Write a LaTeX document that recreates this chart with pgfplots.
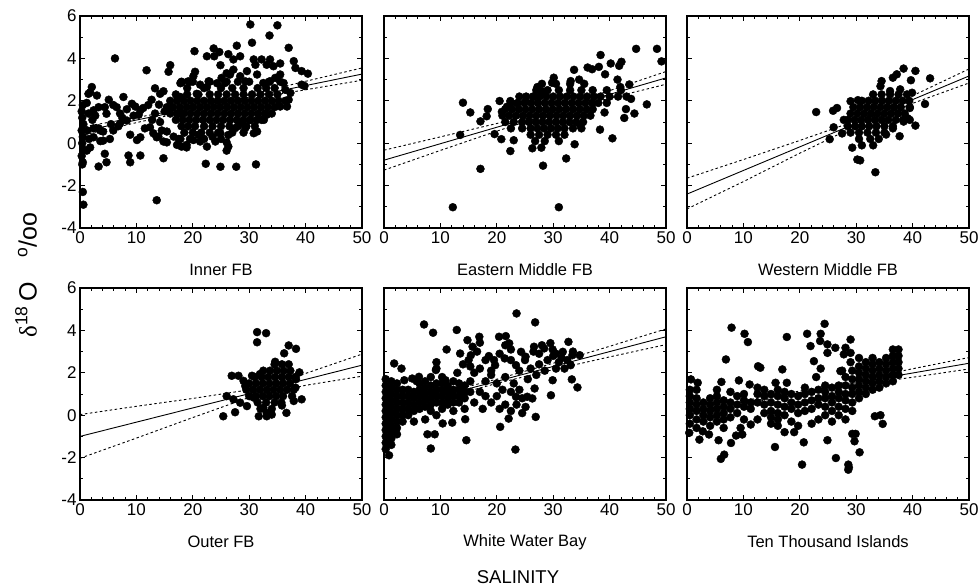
\documentclass[border=0pt]{standalone}
\usepackage{fontspec}
\setmainfont{Liberation Sans}
\newfontfamily\serif{Liberation Serif}
\usepackage{pgfplots}
\pgfplotsset{compat=1.18}

\pgfplotsset{
  panel/.style={
    anchor=north west,
    scale only axis, width=282pt, height=212pt,
    xmin=0, xmax=50, ymin=-4, ymax=6,
    xtick={0,10,...,50}, ytick={-4,-2,...,6},
    minor x tick num=4, minor y tick num=1,
    tick align=inside, major tick length=5pt, minor tick length=3pt,
    axis line style={line width=1.2pt},
    every tick/.style={black, line width=0.7pt},
    tick label style={font=\fontsize{17}{19}\selectfont},
    /pgf/number format/assume math mode=true,
    xlabel style={font=\fontsize{16.5}{18}\selectfont,
      at={(axis description cs:0.5,0)}, anchor=center, yshift=-42pt},
  },
  noy/.style={yticklabels={}},
  dots/.style={only marks, mark=*, mark size=4pt, black},
  fit/.style={black, line width=0.9pt, mark=none},
  band/.style={black, line width=0.9pt, mark=none, dash pattern=on 2.5pt off 2.5pt},
}

\begin{document}
\begin{tikzpicture}
\path[use as bounding box] (0,0) rectangle (980pt,-586pt);

% ---------- Inner FB ----------
\begin{axis}[panel, at={(80pt,-16pt)}, xlabel={Inner FB}]
\addplot[dots] coordinates {
(0.3,1.5)(0.5,1.8)(0.4,1.2)(0.6,0.9)(0.3,0.6)(0.5,0.3)(0.4,0.0)(0.6,-0.3)(0.3,-0.6)(0.5,-0.9)(0.4,-1.0)(0.5,-2.3)(0.6,-2.9)
(1.2,1.9)(1.5,1.4)(1.3,0.6)(1.6,0.2)(1.8,-0.2)(1.2,-0.35)(1.8,2.4)(1.5,2.33)(2.1,2.65)(2.4,1.55)(2.4,0.7)(2.4,0.28)(2.2,1.1)
(2.7,1.3)(3.0,2.25)(3.3,1.7)(3.3,0.7)(3.6,0.6)(3.6,0.1)(3.3,-1.1)(4.1,0.55)(4.1,0.12)(4.4,1.7)(4.7,1.39)(4.4,-0.5)(4.7,-0.9)
(5.1,2.05)(5.3,0.2)(5.5,0.9)(5.9,0.6)(5.9,1.8)(6.2,4.0)(6.5,1.7)(6.8,0.8)(7.1,1.4)(7.1,0.93)(7.7,2.18)(7.5,1.2)(8.3,1.07)
(8.3,1.6)(8.6,-0.58)(8.9,0.4)(8.9,-0.9)(9.2,1.86)(9.5,1.3)(9.8,1.73)(10.1,0.15)(10.4,1.34)(10.7,0.28)(10.7,1.55)(10.7,-0.58)
(11.2,1.66)(11.8,3.44)(11.5,0.7)(12.1,1.8)(12.4,0.75)(12.7,2.05)(12.8,1.1)(13.0,0.47)(13.3,2.59)(13.3,1.4)(13.6,0.28)
(13.6,-2.69)(14.0,1.82)(14.2,2.33)(14.2,1.0)(14.5,0.6)(14.8,2.45)(14.8,0.08)(14.8,-0.71)(15.0,1.5)(15.4,0.55)(15.4,1.7)
(15.4,0.04)(15.7,3.37)(16.0,3.68)
(17.8,2.83)(19.5,2.9)(20.4,3.37)(20.3,4.34)(20.1,3.16)(19.2,2.92)(18.0,2.87)(17.8,2.18)(20.7,2.33)(22.5,2.65)(24.3,2.83)
(24.9,3.68)(26.0,3.3)(22.5,4.1)(23.7,4.47)(23.8,4.1)(24.7,4.3)(26.3,4.2)(27.2,3.95)(27.8,4.6)(28.4,4.1)(30.2,5.6)(30.5,4.74)
(33.6,5.08)(35.0,5.56)(30.8,3.95)(31.1,3.7)(32.2,3.95)(33.1,3.7)(33.7,3.95)(34.3,3.63)(35.5,3.76)(37.0,4.5)(37.9,3.87)
(38.2,3.55)(39.3,3.4)(40.4,3.28)(39.3,2.76)(39.8,2.7)(21.3,2.76)(22.8,2.92)(25.1,3.08)(25.7,2.84)(26.6,3.24)(27.2,3.47)
(28.4,3.16)(29.6,3.4)(29.3,2.92)(31.4,3.24)(32.5,2.84)(33.7,2.92)(34.6,3.08)(35.5,3.24)(36.1,2.84)(36.4,2.52)(37.3,2.37)
(37.0,2.05)(36.7,1.73)(35.5,1.73)
(13.9,0.31)(16.6,0.31)(17.2,-0.08)(18.0,-0.16)(18.9,-0.08)(17.8,0.2)(18.9,-0.2)(20.1,0.15)(21.3,0.08)(22.5,-0.16)(24.0,0.08)
(24.9,0.47)(26.3,-0.16)(26.3,0.39)(26.0,0.04)(26.0,-0.35)(27.5,0.71)(28.4,0.94)(30.8,0.47)(31.4,0.55)(29.3,0.71)(30.2,1.1)
(32.2,1.1)(33.1,1.34)(22.3,-0.97)(24.9,-1.11)(27.7,-1.11)(31.2,-1.0)(17.8,1.39)(21,0.4)(23.5,0.3)
(17,2.3)(19,2.3)(21,2.3)(23,2.3)(24.5,2.3)(26,2.3)(27.5,2.3)(29,2.3)(30.5,2.3)(32,2.3)(33.5,2.3)(35,2.3)
(16,2.0)(17.2,2.0)(18.4,2.0)(19.6,2.0)(20.8,2.0)(22,2.0)(23.2,2.0)(24.4,2.0)(25.6,2.0)(26.8,2.0)(28,2.0)(29.2,2.0)(30.4,2.0)
(31.6,2.0)(32.8,2.0)(34,2.0)(35.2,2.0)(36.4,2.0)
(16.5,1.7)(17.7,1.7)(18.9,1.7)(20.1,1.7)(21.3,1.7)(22.5,1.7)(23.7,1.7)(24.9,1.7)(26.1,1.7)(27.3,1.7)(28.5,1.7)(29.7,1.7)
(30.9,1.7)(32.1,1.7)(33.3,1.7)(34.5,1.7)
(16,1.4)(17.2,1.4)(18.4,1.4)(19.6,1.4)(20.8,1.4)(22,1.4)(23.2,1.4)(24.4,1.4)(25.6,1.4)(26.8,1.4)(28,1.4)(29.2,1.4)(30.4,1.4)
(31.6,1.4)(32.8,1.4)(34,1.4)
(17,1.1)(18.2,1.1)(19.4,1.1)(20.6,1.1)(21.8,1.1)(23,1.1)(24.2,1.1)(25.4,1.1)(26.6,1.1)(27.8,1.1)(29,1.1)(30.2,1.1)(31.4,1.1)(32.6,1.1)
(18,0.8)(19.2,0.8)(20.4,0.8)(22,0.8)(23.5,0.8)(25,0.8)(26.5,0.8)(28,0.8)(29.5,0.8)(31,0.8)
(18.5,0.5)(20,0.5)(21.5,0.5)(23,0.5)(24.5,0.5)(27,0.5)(29,0.5)
(17.5,0.2)(19.5,0.2)(22,0.2)(25,0.2)
(19,2.6)(22,2.6)(25,2.6)(27,2.6)(29,2.6)(31.5,2.6)(33,2.6)(34.5,2.6)
(18,2.9)(20,2.9)(23,2.9)(26,2.9)(28,2.9)(30,2.9)(33.5,2.9)(35.5,2.9)
};
\addplot[fit] coordinates {(0,0.55)(50,3.26)};
\addplot[band] coordinates {(0,0.75)(10,1.21)(20,1.70)(30,2.28)(40,2.92)(50,3.55)};
\addplot[band] coordinates {(0,0.35)(10,0.97)(20,1.56)(30,2.08)(40,2.52)(50,2.97)};
\end{axis}

% ---------- Eastern Middle FB ----------
\begin{axis}[panel, noy, at={(384pt,-16pt)}, xlabel={Eastern Middle FB}]
\addplot[dots] coordinates {
(14.0,1.91)(15.3,1.45)(13.5,0.39)(12.2,-3.02)(17.1,-1.21)(17.1,1.03)(18.4,1.61)(18.2,1.27)(19.6,0.43)(20.8,0.19)(22.4,-0.37)
(23.0,0.14)(20.5,1.99)(22.4,1.99)(26.3,-0.24)(27.9,-0.21)(28.2,-1.06)(31.0,-3.02)(32.3,-0.72)(33.8,-0.05)(34.8,0.84)(38.3,0.64)
(40.5,0.23)(39.1,1.45)(42.6,1.19)(42.9,1.61)(44.4,1.40)(43.8,2.09)(46.6,1.83)(44.7,4.45)(48.4,4.45)(49.2,3.86)(38.4,4.16)
(40.2,3.76)(41.7,3.65)(42.1,3.84)(41.4,3.0)(41.9,2.65)(43.5,2.77)(39.2,3.25)(38.1,3.6)(36.9,3.49)(36.1,3.57)(33.7,3.46)
(34.6,3.0)(33.1,2.93)(30.1,3.09)(29.8,2.85)(27.2,2.65)(28.1,2.44)(26.6,2.2)(25.1,1.96)(23.6,1.88)(21.8,1.72)(20.9,1.48)
(27,2.5)(29,2.5)(31,2.5)(33,2.5)(35,2.5)(37,2.5)(39.5,2.5)(42,2.5)
(24,2.2)(25.2,2.2)(26.4,2.2)(27.6,2.2)(28.8,2.2)(30,2.2)(31.2,2.2)(32.4,2.2)(33.6,2.2)(34.8,2.2)(36,2.2)(37.2,2.2)(38.4,2.2)
(40,2.2)(41.5,2.2)(43,2.2)
(22.5,1.9)(23.7,1.9)(24.9,1.9)(26.1,1.9)(27.3,1.9)(28.5,1.9)(29.7,1.9)(30.9,1.9)(32.1,1.9)(33.3,1.9)(34.5,1.9)(35.7,1.9)
(36.9,1.9)(38,1.9)(39.5,1.9)
(21.5,1.6)(22.7,1.6)(23.9,1.6)(25.1,1.6)(26.3,1.6)(27.5,1.6)(28.7,1.6)(29.9,1.6)(31.1,1.6)(32.3,1.6)(33.5,1.6)(34.7,1.6)
(35.9,1.6)(37,1.6)
(21,1.3)(22.2,1.3)(23.4,1.3)(24.6,1.3)(25.8,1.3)(27,1.3)(28.2,1.3)(29.4,1.3)(30.6,1.3)(31.8,1.3)(33,1.3)(34.2,1.3)(35.4,1.3)(36.6,1.3)
(21.5,1.0)(23,1.0)(24.5,1.0)(25.7,1.0)(26.9,1.0)(28.1,1.0)(29.3,1.0)(30.5,1.0)(31.7,1.0)(32.9,1.0)(34.1,1.0)(35.3,1.0)
(22.5,0.7)(24.5,0.7)(26,0.7)(27.2,0.7)(28.4,0.7)(29.6,0.7)(30.8,0.7)(32,0.7)(33.5,0.7)(35,0.7)
(26,0.4)(27.5,0.4)(29,0.4)(30.5,0.4)(32,0.4)
(26.8,0.1)(28.5,0.1)(31,0.1)
(28,2.8)(30.5,2.8)(33,2.8)(35.5,2.8)
};
\addplot[fit] coordinates {(0,-0.8)(50,3.08)};
\addplot[band] coordinates {(0,-0.33)(10,0.30)(20,0.93)(30,1.63)(40,2.48)(50,3.38)};
\addplot[band] coordinates {(0,-1.27)(10,-0.34)(20,0.57)(30,1.43)(40,2.12)(50,2.78)};
\end{axis}

% ---------- Western Middle FB ----------
\begin{axis}[panel, noy, at={(687pt,-16pt)}, xlabel={Western Middle FB}]
\addplot[dots] coordinates {
(22.9,1.47)(25.9,1.53)(26.0,0.75)(25.3,0.19)(26.6,1.66)(29.3,-0.21)(30.2,-0.77)(30.7,-0.81)(33.4,-1.37)(29.0,1.98)(30.3,2.03)
(38.4,3.52)(40.5,3.41)(43.1,3.06)(42.2,1.85)(40.5,0.83)(37.7,0.33)(36.5,0.7)(35.3,0.41)(37.2,3.25)(36.5,3.09)(34.5,2.93)
(34.3,2.69)(39.7,2.97)(39.9,2.38)(39.5,1.66)(39.1,1.18)(38.4,1.02)(37.8,2.54)(36.0,2.46)(27.5,0.46)(27.8,1.1)
(33,2.3)(34.5,2.3)(36,2.3)(37.5,2.3)(39,2.3)
(31,2.0)(32.2,2.0)(33.4,2.0)(34.6,2.0)(35.8,2.0)(37,2.0)(38.2,2.0)(39.4,2.0)
(29.5,1.7)(30.7,1.7)(31.9,1.7)(33.1,1.7)(34.3,1.7)(35.5,1.7)(36.7,1.7)(37.9,1.7)(39.5,1.7)
(29,1.4)(30.2,1.4)(31.4,1.4)(32.6,1.4)(33.8,1.4)(35,1.4)(36.2,1.4)(37.4,1.4)(38.6,1.4)
(28.5,1.1)(29.7,1.1)(30.9,1.1)(32.1,1.1)(33.3,1.1)(34.5,1.1)(35.7,1.1)(37,1.1)(38.3,1.1)(39.5,1.1)
(28.5,0.8)(29.8,0.8)(31,0.8)(32.3,0.8)(33.6,0.8)(35,0.8)(36.5,0.8)
(29,0.5)(30.5,0.5)(32,0.5)(33.5,0.5)(35,0.5)
(30.5,0.2)(32.5,0.2)(34,0.2)
(31,-0.1)(33,-0.1)
};
\addplot[fit] coordinates {(0,-2.4)(50,3.17)};
\addplot[band] coordinates {(0,-1.65)(10,-0.77)(20,0.13)(30,1.06)(40,2.24)(50,3.50)};
\addplot[band] coordinates {(0,-3.1)(10,-1.81)(20,-0.47)(30,0.82)(40,1.88)(50,2.84)};
\end{axis}

% ---------- Outer FB ----------
\begin{axis}[panel, at={(80pt,-288pt)}, xlabel={Outer FB}]
\addplot[dots] coordinates {
(31.4,3.92)(31.4,3.44)(33.0,3.87)(37.0,3.29)(38.3,3.13)(36.2,2.92)(34.6,2.52)(25.4,-0.05)(26.0,0.9)(27.5,0.14)(26.9,1.86)
(28.1,1.86)(29.0,1.62)(29.3,1.38)(30.5,1.86)(31.9,1.94)(31.7,-0.05)(33.1,-0.05)(34.0,0.03)(36.6,0.11)(35.8,0.46)(37.6,0.9)
(39.3,0.75)(37.9,0.67)(27.2,0.75)(28.4,0.59)(29.6,0.43)(30.8,0.83)(32.5,0.35)(33.1,0.11)(38.9,2.02)(38.3,1.70)(38.2,1.3)
(34.5,2.4)(35.8,2.4)(37,2.4)
(32.5,2.1)(33.7,2.1)(34.9,2.1)(36.1,2.1)(37.3,2.1)
(31,1.8)(32.2,1.8)(33.4,1.8)(34.6,1.8)(35.8,1.8)(37,1.8)(38.2,1.8)
(30,1.5)(31.2,1.5)(32.4,1.5)(33.6,1.5)(34.8,1.5)(36,1.5)(37.2,1.5)
(29.5,1.2)(30.7,1.2)(31.9,1.2)(33.1,1.2)(34.3,1.2)(35.5,1.2)(36.7,1.2)(37.9,1.2)
(30,0.9)(31.2,0.9)(32.4,0.9)(33.6,0.9)(34.8,0.9)(36,0.9)
(31.5,0.6)(33,0.6)(34.5,0.6)(35.7,0.6)
(32,0.3)(34,0.3)
};
\addplot[fit] coordinates {(0,-1.0)(50,2.36)};
\addplot[band] coordinates {(0,0.03)(10,0.42)(20,0.79)(30,1.20)(40,1.97)(50,2.88)};
\addplot[band] coordinates {(0,-2.03)(10,-1.08)(20,-0.11)(30,0.84)(40,1.41)(50,1.84)};
\end{axis}

% ---------- White Water Bay ----------
\begin{axis}[panel, noy, at={(384pt,-288pt)}, xlabel={White Water Bay}]
\addplot[dots] coordinates {
(23.5,4.8)(7.1,4.28)(8.7,3.89)(12.9,4.02)(26.8,4.38)(11.1,3.1)(13.5,2.91)(14.8,3.54)(16.9,3.7)(15.7,3.23)(17.0,3.42)(15.4,2.83)
(18.6,2.79)(20.4,3.7)(21.6,3.73)(22.2,3.39)(22.5,3.1)(21.4,2.68)(19.7,2.36)(23.4,2.36)(24.3,2.99)(25.1,2.76)(26.6,3.23)
(28.4,3.15)(29.9,3.1)(31.7,2.99)(32.7,3.46)(33.4,2.83)(34.7,2.83)(33.1,2.36)(32.0,2.2)(30.5,2.2)(29.9,1.65)(29.6,0.94)
(33.3,1.69)(34.3,1.31)(26.7,1.26)(26.9,-0.08)(25.1,0.39)(26.3,0.79)(25.4,0.87)(23.4,0.87)(22.1,-0.16)(20.6,-0.55)
(23.3,-1.62)(14.6,-1.18)(8.3,-1.57)(7.7,-0.9)(9.0,-0.9)(10.4,-0.39)(12.1,-0.35)(14.4,-0.19)(0.9,-1.89)
(0.3,-1.6)(0.3,-1.3)(0.3,-1.0)(0.3,-0.7)(0.3,-0.4)(0.3,-0.1)(0.3,0.2)(0.3,0.5)(0.3,0.8)(0.3,1.1)(0.3,1.4)(0.3,1.7)
(1.3,-1.4)(1.3,-1.1)(1.3,-0.8)(1.3,-0.5)(1.3,-0.2)(1.3,0.1)(1.3,0.4)(1.3,0.7)(1.3,1.0)(1.3,1.3)(1.3,1.6)
(2.3,-0.9)(2.3,-0.6)(2.3,-0.3)(2.3,0.0)(2.3,0.3)(2.3,0.6)(2.3,0.9)(2.3,1.2)(2.3,1.5)
(3.3,-0.3)(3.3,0.0)(3.3,0.3)(3.3,0.6)(3.3,0.9)(3.3,1.2)
(4.3,0.0)(4.3,0.3)(4.3,0.6)(4.3,0.9)(4.3,1.2)(1.8,2.44)(3.1,2.2)
(5.3,-0.3)(5.3,0.2)(5.3,0.5)(5.3,0.8)(5.3,1.1)
(6.3,0.3)(6.3,0.6)(6.3,0.9)(6.3,1.2)(6.3,1.5)
(7.3,-0.2)(7.3,0.4)(7.3,0.7)(7.3,1.0)(7.3,1.3)(7.3,1.6)
(8.3,0.2)(8.3,0.5)(8.3,0.8)(8.3,1.1)(8.3,1.4)(8.3,1.8)
(9.3,0.0)(9.3,0.6)(9.3,0.9)(9.3,1.2)(9.3,1.5)(9.3,2.2)(9.3,2.5)
(10.3,0.3)(10.3,0.6)(10.3,0.9)(10.3,1.2)(10.3,1.5)(10.3,1.8)
(11.3,0.5)(11.3,0.8)(11.3,1.1)(11.3,1.4)
(12.3,0.2)(12.3,0.6)(12.3,0.9)(12.3,1.2)(12.3,1.6)
(13.3,0.6)(13.3,0.9)(13.3,1.2)(13.3,1.5)
(14.3,0.3)(14.3,0.8)(14.3,1.1)(14.3,1.4)
(6.2,1.81)(5.8,1.6)(15.3,1.1)(15.3,1.6)(15.3,2.3)
(5.0,1.73)(3.6,1.65)(9.2,2.13)(10.9,1.65)(11.4,1.18)(13.6,1.21)
(16,2.0)(17,2.2)(18,1.6)(19,1.9)(20,1.5)(21,1.2)(21.5,1.8)(22.5,1.1)(23,1.5)(24,1.2)(24.5,0.8)(25.5,1.7)(26,2.2)(27,1.9)
(27.5,2.4)(28.5,2.1)(29,2.6)(30,2.8)(31,2.5)(19,0.6)(20,0.9)(20.5,0.3)(21.5,0.5)(22.5,0.2)(23.5,0.5)(24.5,0.1)(18,0.9)
(17,1.1)(16,0.6)(17.5,0.3)(19.5,2.6)(20.5,2.9)(21.5,3.3)(22.5,2.6)(24,2.1)(25,2.6)(26.5,3.0)(27.5,2.9)(28,3.3)(29.5,3.4)
(30.5,2.9)(31.5,2.7)(32.5,2.6)(33.5,3.0)(16.5,3.0)(18,2.6)(19,2.1)(15,2.6)(14,2.4)(13,2.0)
};
\addplot[fit] coordinates {(0,0.2)(50,3.7)};
\addplot[band] coordinates {(0,0.4)(10,1.02)(20,1.7)(30,2.45)(40,3.25)(50,4.07)};
\addplot[band] coordinates {(0,0.0)(10,0.78)(20,1.5)(30,2.15)(40,2.75)(50,3.33)};
\end{axis}

% ---------- Ten Thousand Islands ----------
\begin{axis}[panel, noy, at={(687pt,-288pt)}, xlabel={Ten Thousand Islands}]
\addplot[dots] coordinates {
(7.9,4.13)(10.2,3.84)(10.8,3.45)(6.9,2.63)(21.3,3.84)(21.9,3.26)(23.7,3.84)(24.4,4.31)(23.6,3.5)(24.9,3.34)(26.3,3.18)
(24.9,2.94)(22.5,2.55)(22.9,1.8)(23.7,2.2)(17.7,3.69)(12.6,2.31)(13.0,2.24)(16.9,2.16)(28.1,3.18)(29.0,3.57)(27.8,2.87)
(29.0,2.94)(27.2,2.08)(0.7,1.69)(1.9,1.53)(6.1,1.57)(9.2,1.64)(11.1,1.45)(15.7,1.53)(17.7,1.53)(33.3,-0.05)(34.3,0.0)
(34.7,-0.41)(29.3,-0.88)(29.9,-0.88)(29.7,-1.23)(30.6,-1.75)(28.6,-2.33)(28.6,-2.57)(28.7,-2.46)(26.4,-2.02)(24.9,-1.18)
(20.7,-1.28)(20.4,-2.33)(15.6,-1.5)(17.3,-0.8)(19.0,-0.8)(6.0,-2.06)(6.6,-1.86)(2.2,-1.15)(5.6,-1.18)(7.8,-1.31)(8.7,-0.96)
(9.8,-0.91)(9.5,-0.6)(11.3,-0.44)(3.9,-0.91)(2.8,-0.76)(0.4,-0.83)
(0.5,-0.4)(0.5,0.0)(0.5,0.3)(0.5,0.6)(0.5,0.9)(0.5,1.2)
(1.7,-0.6)(1.7,-0.2)(1.7,0.2)(1.7,0.5)(1.7,0.8)(1.7,1.2)
(2.9,-0.3)(2.9,0.0)(2.9,0.3)(2.9,0.6)
(4.1,-0.5)(4.1,-0.1)(4.1,0.2)(4.1,0.5)(4.1,0.8)
(5.3,-0.3)(5.3,0.0)(5.3,0.3)(5.3,0.6)(5.3,0.9)(5.3,1.2)
(6.5,-0.6)(6.5,-0.2)(6.5,0.1)(6.5,0.4)(6.5,0.7)
(7.7,-0.1)(7.7,0.3)(7.7,0.6)(7.7,1.1)
(8.9,0.1)(8.9,0.5)(8.9,0.9)
(10.1,-0.2)(10.1,0.4)(10.1,0.7)(10.1,1.0)
(11.3,0.3)(11.3,0.6)
(12.5,-0.2)(12.5,0.6)(12.5,1.0)(12.5,1.3)
(13.7,0.1)(13.7,0.5)(13.7,0.9)(13.7,1.2)
(14.9,-0.4)(14.9,-0.1)(14.9,0.2)(14.9,0.6)(14.9,1.0)
(16.1,-0.5)(16.1,-0.2)(16.1,0.1)(16.1,0.5)(16.1,0.9)(16.1,1.2)
(17.3,0.0)(17.3,0.4)(17.3,0.8)(17.3,1.1)
(18.5,-0.3)(18.5,0.3)(18.5,0.6)(18.5,1.0)
(19.7,-0.5)(19.7,0.1)(19.7,0.5)(19.7,0.9)
(20.9,0.2)(20.9,0.6)(20.9,1.0)(20.9,1.3)
(22.1,-0.4)(22.1,0.3)(22.1,0.7)(22.1,1.1)
(23.3,-0.2)(23.3,0.5)(23.3,0.8)(23.3,1.2)
(24.5,0.0)(24.5,0.4)(24.5,0.8)(24.5,1.1)(24.5,1.4)
(25.7,-0.3)(25.7,0.2)(25.7,0.6)(25.7,0.9)(25.7,1.3)
(26.9,0.0)(26.9,0.4)(26.9,0.8)(26.9,1.1)(26.9,1.4)
(28.1,-0.2)(28.1,0.3)(28.1,0.7)(28.1,1.0)(28.1,1.4)(28.1,1.8)
(29.3,0.2)(29.3,0.6)(29.3,1.0)(29.3,1.3)(29.3,1.7)(29.3,2.1)
(30.5,0.8)(30.5,1.1)(30.5,1.4)(30.5,1.7)(30.5,2.0)(30.5,2.3)(30.5,2.7)
(31.7,1.0)(31.7,1.3)(31.7,1.6)(31.7,1.9)(31.7,2.2)(31.7,2.5)
(32.9,1.2)(32.9,1.5)(32.9,1.8)(32.9,2.1)(32.9,2.4)(32.9,2.7)
(34.1,1.3)(34.1,1.6)(34.1,1.9)(34.1,2.2)(34.1,2.5)
(35.3,1.5)(35.3,1.8)(35.3,2.1)(35.3,2.4)(35.3,2.7)
(36.5,1.6)(36.5,1.9)(36.5,2.2)(36.5,2.5)(36.5,2.8)(36.5,3.1)
(37.5,1.9)(37.5,2.2)(37.5,2.5)(37.5,2.8)(37.5,3.1)
(27.5,2.1)(29,2.5)
};
\addplot[fit] coordinates {(0,0.15)(50,2.45)};
\addplot[band] coordinates {(0,0.30)(10,0.69)(20,1.14)(30,1.65)(40,2.19)(50,2.72)};
\addplot[band] coordinates {(0,0.0)(10,0.53)(20,1.0)(30,1.41)(40,1.79)(50,2.18)};
\end{axis}

\node[rotate=90, anchor=center, font=\fontsize{25}{28}\selectfont]
  at (26pt,-275pt) {{\serif δ}\textsuperscript{18}\,O\quad\textsuperscript{o}/oo};
\node[font=\fontsize{18.5}{21}\selectfont] at (518pt,-577pt) {SALINITY};
\end{tikzpicture}
\end{document}
